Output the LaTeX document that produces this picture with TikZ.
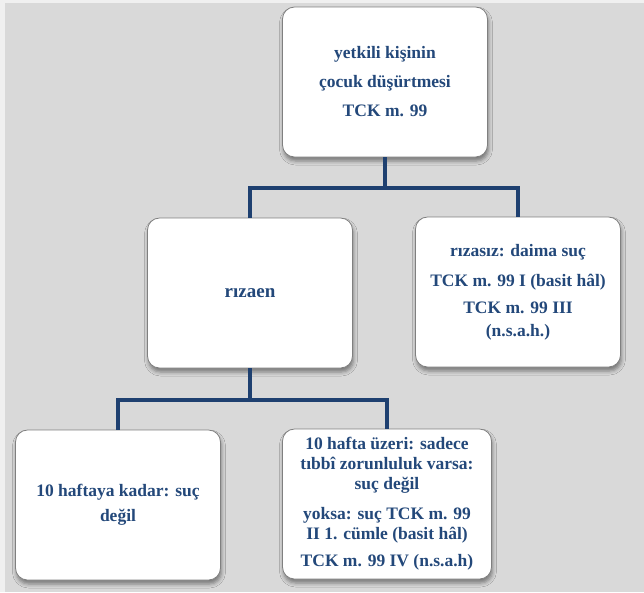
\documentclass[tikz,border=0pt]{standalone}
\usepackage{fontspec}
\setmainfont{Liberation Serif}
\usepackage{xcolor}
\usetikzlibrary{shadows.blur}
\definecolor{boxtext}{RGB}{35,72,122}
\definecolor{linkblue}{RGB}{30,64,112}
\definecolor{bggray}{RGB}{217,217,217}

\begin{document}
\begin{tikzpicture}[x=1pt,y=-1pt,
    every node/.style={font=\fontsize{17.5}{20}\selectfont\bfseries},
    card/.style={rectangle,draw=black!50,line width=0.8pt,fill=white,rounded corners=12pt,
      minimum width=205pt,minimum height=150pt,align=center,text=boxtext,inner sep=2pt,
      blur shadow={shadow xshift=1pt,shadow yshift=-4pt,shadow blur radius=4pt,shadow opacity=45}},
    link/.style={line width=4pt,linkblue},
]
% background
\fill[black!6] (0,0) rectangle (644,592);
\fill[bggray] (5,3) rectangle (644,592);
% boxes
\node[card] (top) at (385,82) {yetkili kişinin\\[9pt]çocuk düşürtmesi\\[9pt]TCK m. 99};
\node[card] (rizaen) at (250,293) {\fontsize{19}{20}\selectfont rızaen};
\node[card] (rizasiz) at (518,292) {rızasız: daima suç\\[10pt]TCK m. 99 I (basit hâl)\\[7pt]TCK m. 99 III\\[3pt](n.s.a.h.)};
\node[card] (kadar) at (118,505) {10 haftaya kadar: suç\\[5pt]değil};
\node[card,minimum width=209pt] (uzeri) at (387,504) {10 hafta üzeri: sadece\\tıbbî zorunluluk varsa:\\suç değil\\[10pt]yoksa: suç TCK m. 99\\II 1. cümle (basit hâl)\\[7pt]TCK m. 99 IV (n.s.a.h)};
% connectors
\path (top.south) ++(0,31) coordinate (j1);
\path (rizaen.south) ++(0,32) coordinate (j2);
\draw[link] (top.south) -- (j1);
\draw[link] (rizaen.north) |- (j1) -| (rizasiz.north);
\draw[link] (rizaen.south) -- (j2);
\draw[link] (kadar.north) |- (j2) -| (uzeri.north);
\end{tikzpicture}
\end{document}
